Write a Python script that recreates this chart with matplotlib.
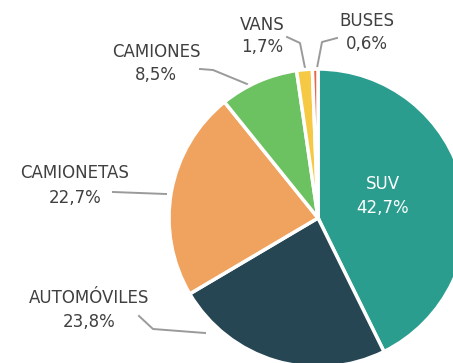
import matplotlib
matplotlib.use("Agg")
import matplotlib.pyplot as plt

categorias = ["SUV", "AUTOMÓVILES", "CAMIONETAS", "CAMIONES", "VANS", "BUSES"]
porcentajes = [42.7, 23.8, 22.7, 8.5, 1.7, 0.6]
colores = ["#2a9d8f", "#264653", "#f0a35e", "#6cc160", "#f6c945", "#e4684c"]

W, H = 453, 363
fig = plt.figure(figsize=(W / 100, H / 100), dpi=100)
ax = fig.add_axes([0, 0, 1, 1])

# centro y radio en pixeles (y hacia arriba)
cx, cy, r = 318, H - 218, 149
ax.pie(porcentajes, colors=colores, startangle=90, counterclock=False,
       center=(cx, cy), radius=r, frame=True,
       wedgeprops=dict(edgecolor="white", linewidth=2.5))
ax.set_xlim(0, W)
ax.set_ylim(0, H)
ax.set_aspect("equal")
ax.axis("off")

def fmt(v):
    return f"{v:.1f}%".replace(".", ",")

txt = "#404040"
fs = 12
# posiciones de etiquetas (x, y nombre, y valor) en pixeles
pos = {
    "SUV": (383, 184, 208),
    "AUTOMÓVILES": (89, 298, 322),
    "CAMIONETAS": (75, 173, 198),
    "CAMIONES": (156, 52, 75),
    "VANS": (262, 25, 47),
    "BUSES": (367, 21, 44),
}
for cat, val in zip(categorias, porcentajes):
    x, y1, y2 = pos[cat]
    c = "white" if cat == "SUV" else txt
    ax.text(x, H - y1, cat, ha="center", va="center", fontsize=fs, color=c)
    ax.text(x, H - y2, fmt(val), ha="center", va="center", fontsize=fs, color=c)

# lineas guia
guias = [
    [(287, 37), (300, 43), (305, 68)],
    [(337, 38), (322, 42), (317, 68)],
    [(200, 69), (213, 70), (247, 84)],
    [(113, 192), (166, 194)],
    [(139, 316), (153, 329), (205, 333)],
]
for g in guias:
    xs = [p[0] for p in g]
    ys = [H - p[1] for p in g]
    ax.plot(xs, ys, color="#9a9a9a", linewidth=1.4, zorder=0.5)

fig.savefig("out.png", dpi=100)
